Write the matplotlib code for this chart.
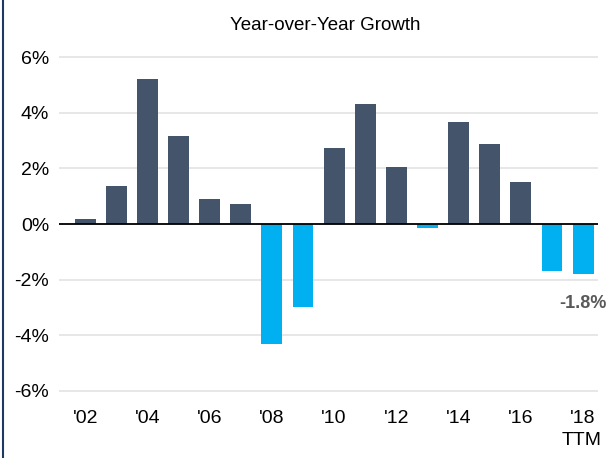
import numpy as np
import matplotlib.pyplot as plt
from matplotlib.lines import Line2D

years = ["'02", "'03", "'04", "'05", "'06", "'07", "'08", "'09", "'10",
         "'11", "'12", "'13", "'14", "'15", "'16", "'17", "'18"]
growth = [0.18, 1.35, 5.2, 3.15, 0.9, 0.72, -4.33, -3.0, 2.72,
          4.3, 2.05, -0.15, 3.67, 2.88, 1.5, -1.68, -1.8]
yticks = [-6, -4, -2, 0, 2, 4, 6]

plt.rcParams['font.family'] = ['Liberation Sans', 'DejaVu Sans']

dark = "#44546a"
light = "#00b0f0"

fig = plt.figure(figsize=(6.16, 4.58), dpi=100)
ax = fig.add_axes([0.0958, 0.1286, 0.875, 0.7646])

x = np.arange(len(growth))
colors = [dark if v >= 0 else light for v in growth]
ax.bar(x, growth, width=0.67, color=colors, zorder=3)

ax.set_xlim(-0.84, 16.48)
ax.set_ylim(-6.3, 6.3)
ax.set_yticks(yticks)
ax.set_yticklabels([f"{t}%" for t in yticks])
ax.yaxis.grid(True, color="#e3e3e3", linewidth=1.2, zorder=0)
ax.axhline(0, color="black", linewidth=1.3, zorder=4)

ax.set_xticks(x[::2])
ax.set_xticklabels(years[::2])

for s in ax.spines.values():
    s.set_visible(False)
ax.tick_params(axis='both', length=0, labelsize=14, colors="black")
ax.tick_params(axis='y', pad=7)
ax.tick_params(axis='x', pad=8)

# TTM marker under the last year label
ax.annotate("TTM", (x[-1], 0), xycoords=("data", "axes fraction"),
            xytext=(13, -24), textcoords="offset points",
            ha="right", va="top", fontsize=14)

ax.annotate(f"{growth[-1]}%", (x[-1], growth[-1]), xytext=(0, -15),
            textcoords="offset points", ha="center", va="top",
            fontsize=13, fontweight="bold", color="#595959")

fig.text(0.528, 0.945, "Year-over-Year Growth", ha="center", va="center", fontsize=13.5)

fig.add_artist(Line2D([0.005, 0.005], [0, 1], color="#1f3864", linewidth=1.5,
                      transform=fig.transFigure))

plt.savefig("out.png", dpi=100)
